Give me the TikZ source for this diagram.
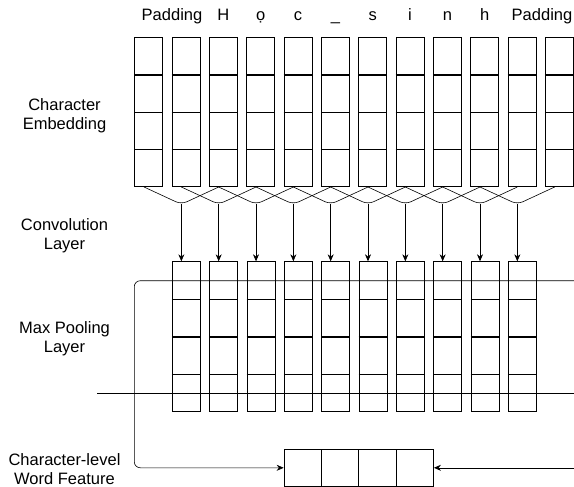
\documentclass[tikz,border=0pt]{standalone}
\usepackage{fontspec}
\setmainfont{Liberation Sans}
\usetikzlibrary{arrows.meta}
\begin{document}
\begin{tikzpicture}[x=1pt,y=-1pt,
        cell/.style={draw,minimum width=28pt,minimum height=37.33pt,inner sep=0pt,line width=0.7pt},
        sep/.style={line width=1.5pt},
        lbl/.style={align=center,font=\fontsize{16.5}{19}\selectfont},
        arr/.style={-{Stealth[length=7pt,width=6pt]},line width=0.6pt}]
    \useasboundingbox (0,0) rectangle (574,487);
    % character embedding
    \foreach \k in {1,...,12}
        \foreach \r in {1,...,4}
            \node[cell] (e-\k-\r) at (111.37+37.33*\k, 18.67+37.33*\r) {};
    % max pooling columns
    \foreach \k in {1,...,10}
        \foreach \r in {1,...,4}
            \node[cell,minimum height=37.5pt] (c-\k-\r) at (148.97+37.33*\k, 242.9+37.5*\r) {};
    % thicker lines between the cells
    \foreach \k in {1,...,12}
        \foreach \r in {1,2,3}
            \draw[sep] (e-\k-\r.south west) -- (e-\k-\r.south east);
    \foreach \k in {1,...,10}
        \foreach \r in {1,2,3}
            \draw[sep] (c-\k-\r.south west) -- (c-\k-\r.south east);
    % word feature
    \foreach \k in {1,...,4}
        \node[cell,minimum width=37.4pt,minimum height=37.7pt] (f-\k) at (265.3+37.4*\k, 467.8) {};
    % characters
    \node[lbl,anchor=base] (pad-l) at (172,21) {Padding};
    \node[lbl,anchor=base] (pad-r) at (542,21) {Padding};
    \foreach \k/\c in {3/H,4/ọ,5/c,6/\_,7/s,8/i,9/n,10/h}
        \node[lbl,anchor=base] (t-\k) at (e-\k-1.center |- 0,21) {\c};
    % layer names
    \node[lbl] (emb) at (64.5,115.5) {Character\\Embedding};
    \node[lbl] (conv) at (64.5,235.5) {Convolution\\Layer};
    \node[lbl] (pool) at (64.5,339) {Max Pooling\\Layer};
    \node[lbl] (feat) at (64.5,468.7) {Character-level\\Word Feature};
    % convolution
    \foreach \k in {1,...,12}
        \coordinate (a-\k) at ([xshift=-4.67pt]e-\k-4.south);
    \foreach \k [evaluate=\k as \j using int(\k+1), evaluate=\k as \i using int(\k+2)] in {1,...,10} {
        \coordinate (m-\k) at ([yshift=-17.3pt]a-\j);
        \draw[line width=0.6pt,rounded corners=6pt] (a-\k) -- (m-\k) -- (a-\i);
        \draw[arr] (m-\k) -- (m-\k |- c-\k-1.north);
    }
    % pooling lines
    \coordinate (top-r) at (574,280.7);
    \coordinate (bot-l) at (97.3,393);
    \coordinate (bot-r) at (574,393);
    \coordinate (in-r) at (574,467.8);
    \draw[line width=0.6pt] (bot-l) -- (bot-r);
    \draw[arr,rounded corners=6pt] (top-r) -- (134.3,280.7) -- (134.3,467.8) -- (f-1.west);
    \draw[arr] (in-r) -- (f-4.east);
\end{tikzpicture}
\end{document}
